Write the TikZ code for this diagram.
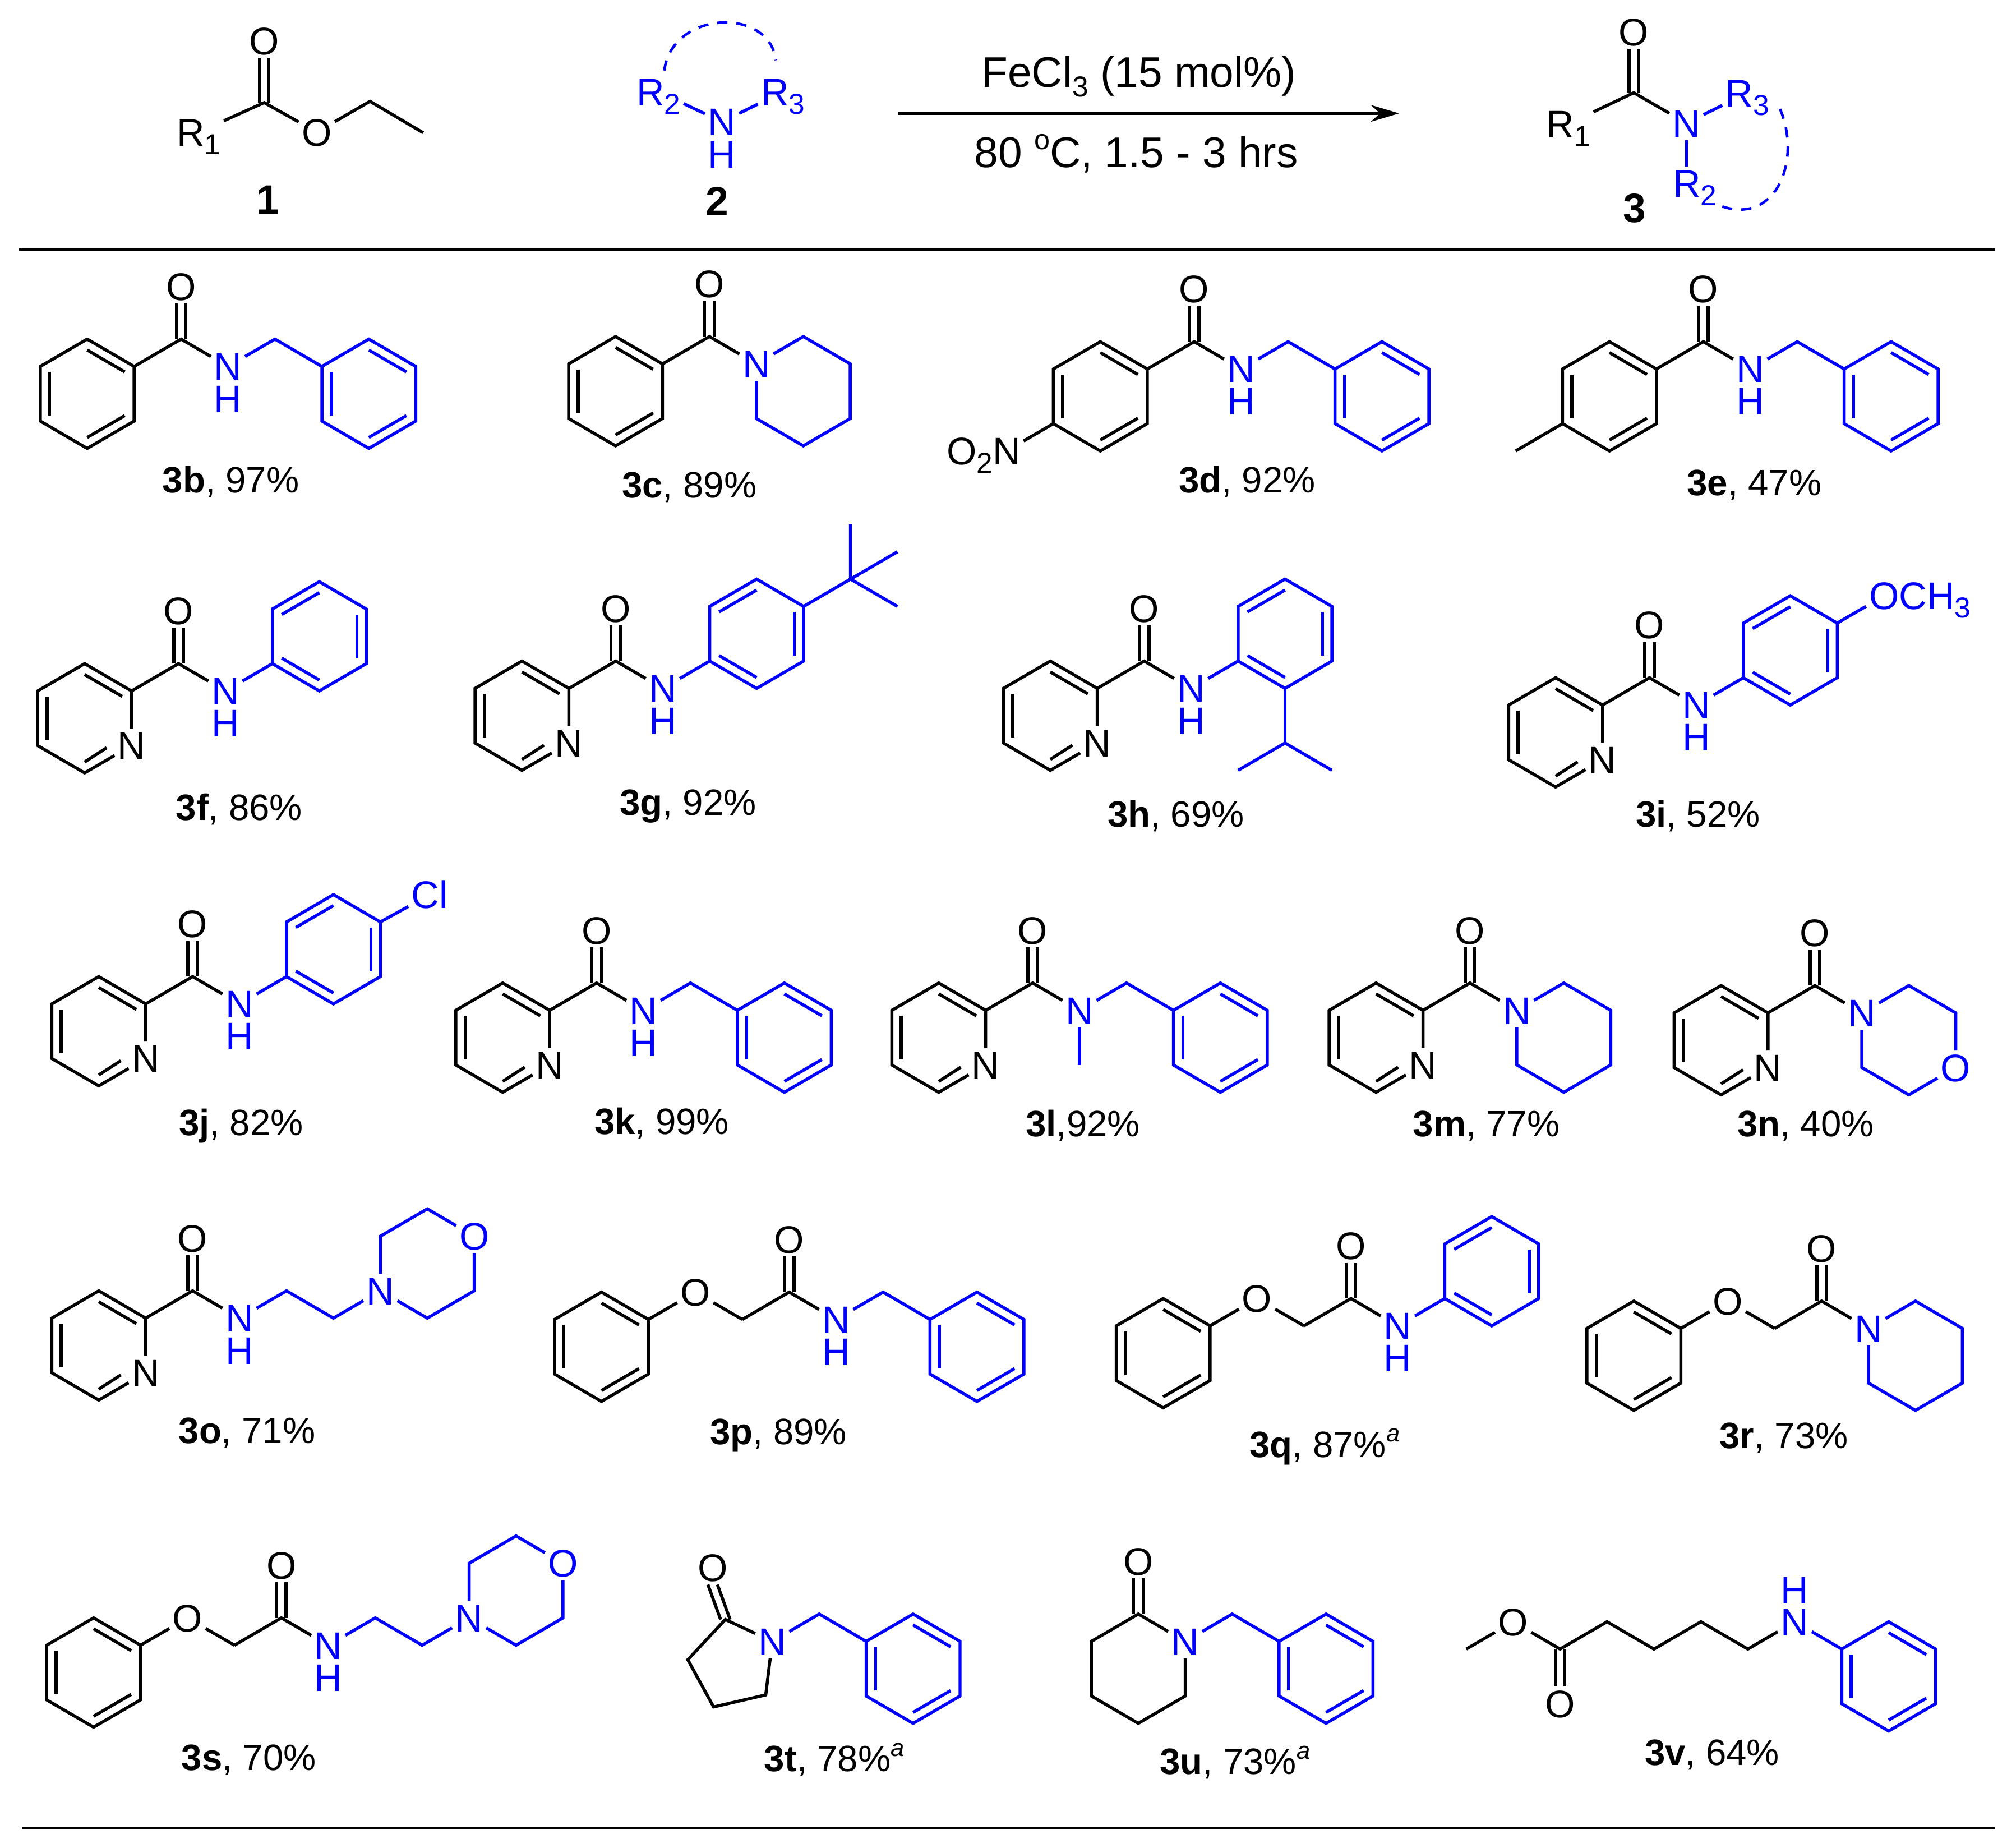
\documentclass[tikz,border=0pt]{standalone}
\usepackage{fontspec}
\setmainfont{Liberation Sans}
\usetikzlibrary{arrows.meta}
\usetikzlibrary{positioning}

\newcommand\subn[1]{\raisebox{-.22em}{\fontsize{22.5}{22.5}\selectfont #1}}
\newcommand\supa{\raisebox{.42em}{\fontsize{19}{19}\selectfont\itshape a}}

\tikzset{
  bb/.style={blue},
  atom/.style={inner sep=2.5pt,outer sep=0pt,text height=21.5pt,text depth=0pt,font=\fontsize{30}{36}\selectfont},
  batom/.style={atom,text=blue},
  lbl/.style={inner sep=0pt,font=\fontsize{28.6}{34}\selectfont},
  big/.style={inner sep=0pt,font=\fontsize{33.5}{40}\selectfont},
  num/.style={inner sep=0pt,font=\fontsize{32}{38}\selectfont\bfseries},
  dash arc/.style={blue,line width=2pt,dash pattern=on 8pt off 7pt},
  at px/.style 2 args={shift={(#1pt,-#2pt)}},
  page/.style={x=1pt,y=-1pt}
}

% ring with its inner bonds, #4 = 1 or -1 flips them
\newcommand\hexring[4][]{%
  \draw [#1] (#2,#3-2) -- (#2+1,#3-1) -- (#2+1,#3+1) -- (#2,#3+2)
  -- (#2-1,#3+1) -- (#2-1,#3-1) -- cycle;
  \draw [#1] (#2,#3-1.6) -- (#2+0.8*#4,#3-0.8);
  \draw [#1] (#2+0.8*#4,#3+0.8) -- (#2,#3+1.6);
  \draw [#1] (#2-0.8*#4,#3+0.8) -- (#2-0.8*#4,#3-0.8);
}
\newcommand\pyrid{%
  \node [atom] (pn) at (1,1) {N};
  \draw (pn) -- (1,-1) -- (0,-2) -- (-1,-1) -- (-1,1) -- (0,2) -- (pn);
  \draw (0,-1.6) -- (0.8,-0.8);
  \draw (-0.8,0.8) -- (-0.8,-0.8);
  \draw (0,1.6) -- (0.47,1.08);
}
\newcommand\dbond[2]{%
  \draw ([xshift=-3.7pt]#1) -- ([xshift=-3.7pt]#2);
  \draw ([xshift=3.7pt]#1) -- ([xshift=3.7pt]#2);
}
\newcommand\cono[2]{%
  \coordinate (c) at (#1,#2);
  \node [atom] (o) at (#1,#2-1.93) {O};
  \node [batom] (n) at (#1+1,#2+1) {N};
  \draw (#1-1,#2+1) -- (c) -- (n);
  \dbond{c}{o.south}
}
\newcommand\nh{\node [batom, below=-1.5pt of n] (h) {H};}
\newcommand\bnzyl[2]{%
  \draw [bb] (n) -- (#1,#2) -- (#1+1,#2+1);
  \hexring[bb]{#1+2}{#2+2}{1}
}
\newcommand\pip[2]{%
  \draw [bb] (n) -- (#1+1,#2-1) -- (#1+2,#2) -- (#1+2,#2+2)
  -- (#1+1,#2+3) -- (#1,#2+2) -- (n);
}
\newcommand\morphup[2]{%
  \node [batom] (nm) at (#1,#2) {N};
  \node [batom] (om) at (#1+2,#2-2) {O};
  \draw [bb] (nm) -- (#1,#2-2) -- (#1+1,#2-3) -- (om) -- (#1+2,#2) -- (#1+1,#2+1) -- (nm);
}
\newcommand\phoxy{%
  \hexring{0}{0}{1}
  \node [atom] (ox) at (2,-2) {O};
  \draw (1,-1) -- (ox) -- (3,-1);
}
\newcommand\labl[4]{\node [lbl] (l#3) at (#1,#2) {\textbf{#3}#4};}

\begin{document}
\begin{tikzpicture}[x=36.6pt, y=-21.3pt, line width=2.4pt]

  \useasboundingbox (0pt,0pt) rectangle (1565pt,-1440.8pt);

  \begin{scope}[page]
    % scheme on top
    \coordinate (c1) at (206,80);
    \coordinate (ch2) at (288.5,79);
    \coordinate (ch3) at (330,103.5);
    \node [atom] (o1) at (206,32) {O};
    \node [atom] (o2) at (247,103) {O};
    \node [atom] (r1) at (155,103) {R\subn{1}};
    \draw (r1) -- (c1) -- (o2) -- (ch2) -- (ch3);
    \dbond{c1}{o1.south}
    \node [num] (n1) at (209,156) {1};

    \node [batom] (n2) at (563,95) {N};
    \node [batom, below=-1.5pt of n2] (h2) {H};
    \node [batom] (r2) at (513.5,71.5) {R\subn{2}};
    \node [batom] (r3) at (610.5,71.5) {R\subn{3}};
    \draw [bb] (r2) -- (n2) -- (r3);
    \draw [dash arc] (518,55) .. controls (524,8) and (600,5) .. (605,47);
    \node [num] (n22) at (559,157) {2};

    \coordinate (a0) at (700,88.4);
    \coordinate (a1) at (1091,88.4);
    \draw [-{Stealth[length=22pt,width=13pt]}, line width=2.2pt] (a0) -- (a1);
    \node [big, anchor=base] (cat) at (888,68) {FeCl\subn{3} (15 mol\%)};
    \node [big, anchor=base] (cond) at (886,130.5)
    {80 \raisebox{.42em}{\fontsize{22}{22}\selectfont o}C, 1.5 - 3 hrs};

    \coordinate (c3) at (1274,72.3);
    \node [atom] (o3) at (1274,25) {O};
    \node [batom] (n3) at (1315,96) {N};
    \node [atom] (r31) at (1223,96.5) {R\subn{1}};
    \node [batom] (r33) at (1362.5,72.5) {R\subn{3}};
    \node [batom] (r32) at (1321.5,143) {R\subn{2}};
    \draw (r31) -- (c3) -- (n3);
    \dbond{c3}{o3.south}
    \draw [bb] (n3) -- (r33);
    \draw [bb] (n3) -- (n3 |- r32.north);
    \draw [dash arc] (1388,85) .. controls (1405,125) and (1385,175) .. (1343,161);
    \node [num] (n33) at (1274.5,162.5) {3};

    \coordinate (t0) at (15,194.8);
    \coordinate (t1) at (1556,194.8);
    \coordinate (b0) at (17,1425.2);
    \coordinate (b1) at (1556,1425.2);
    \draw (t0) -- (t1);
    \draw (b0) -- (b1);

    % labels
    \labl{180}{375.5}{3b}{, 97\%}
    \labl{537.5}{380}{3c}{, 89\%}
    \labl{972.5}{375.5}{3d}{, 92\%}
    \labl{1368}{378}{3e}{, 47\%}
    \labl{186.5}{631}{3f}{, 86\%}
    \labl{536.5}{628.5}{3g}{, 92\%}
    \labl{917}{636}{3h}{, 69\%}
    \labl{1324}{636}{3i}{, 52\%}
    \labl{188}{878}{3j}{, 82\%}
    \labl{516}{876}{3k}{, 99\%}
    \labl{844.4}{877.5}{3l}{,92\%}
    \labl{1159}{878}{3m}{, 77\%}
    \labl{1408}{878}{3n}{, 40\%}
    \labl{192.6}{1117}{3o}{, 71\%}
    \labl{607}{1119}{3p}{, 89\%}
    \labl{1033}{1128}{3q}{, 87\%\supa}
    \labl{1391}{1121}{3r}{, 73\%}
    \labl{194}{1372}{3s}{, 70\%}
    \labl{650.5}{1372}{3t}{, 78\%\supa}
    \labl{963}{1374}{3u}{, 73\%\supa}
    \labl{1335}{1368}{3v}{, 64\%}
  \end{scope}

  % 3b
  \begin{scope}[at px={68}{307}]
    \hexring{0}{0}{1}
    \cono{2}{-2}
    \nh
    \bnzyl{4}{-2}
  \end{scope}

  % 3c
  \begin{scope}[at px={480}{305}]
    \hexring{0}{0}{1}
    \cono{2}{-2}
    \pip{3}{-1}
  \end{scope}

  % 3d
  \begin{scope}[at px={858}{309}]
    \hexring{0}{0}{1}
    \cono{2}{-2}
    \nh
    \bnzyl{4}{-2}
    \node [atom] (no) at (-2,2) {N};
    \node [atom, left=-5pt of no] (ono) {O\subn{2}};
    \draw (-1,1) -- (no);
  \end{scope}

  % 3e
  \begin{scope}[at px={1255}{309}]
    \hexring{0}{0}{1}
    \cono{2}{-2}
    \nh
    \bnzyl{4}{-2}
    \draw (-1,1) -- (-2,2);
  \end{scope}

  % 3f
  \begin{scope}[at px={66}{560}]
    \pyrid
    \cono{2}{-2}
    \nh
    \draw [bb] (n) -- (4,-2);
    \hexring[bb]{5}{-3}{-1}
  \end{scope}

  % 3g
  \begin{scope}[at px={407}{558}]
    \pyrid
    \cono{2}{-2}
    \nh
    \draw [bb] (n) -- (4,-2);
    \hexring[bb]{5}{-3}{-1}
    \draw [bb] (6,-4) -- (7,-5) -- (7,-7);
    \draw [bb] (8,-6) -- (7,-5) -- (8,-4);
  \end{scope}

  % 3h
  \begin{scope}[at px={819}{558}]
    \pyrid
    \cono{2}{-2}
    \nh
    \draw [bb] (n) -- (4,-2);
    \hexring[bb]{5}{-3}{-1}
    \draw [bb] (5,-1) -- (5,1);
    \draw [bb] (4,2) -- (5,1) -- (6,2);
  \end{scope}

  % 3i
  \begin{scope}[at px={1213}{571}]
    \pyrid
    \cono{2}{-2}
    \nh
    \draw [bb] (n) -- (4,-2);
    \hexring[bb]{5}{-3}{-1}
    \node [batom] (ome) at (7,-5) {O};
    \node [batom, right=-5pt of ome] (me) {CH\subn{3}};
    \draw [bb] (6,-4) -- (ome);
  \end{scope}

  % 3j
  \begin{scope}[at px={77}{804}]
    \pyrid
    \cono{2}{-2}
    \nh
    \draw [bb] (n) -- (4,-2);
    \hexring[bb]{5}{-3}{-1}
    \node [batom] (cl) at (7.05,-5) {Cl};
    \draw [bb] (6,-4) -- (cl);
  \end{scope}

  % 3k
  \begin{scope}[at px={392}{809}]
    \pyrid
    \cono{2}{-2}
    \nh
    \bnzyl{4}{-2}
  \end{scope}

  % 3l
  \begin{scope}[at px={732}{809}]
    \pyrid
    \cono{2}{-2}
    \draw [bb] (n) -- (3,1);
    \bnzyl{4}{-2}
  \end{scope}

  % 3m
  \begin{scope}[at px={1073}{809}]
    \pyrid
    \cono{2}{-2}
    \pip{3}{-1}
  \end{scope}

  % 3n
  \begin{scope}[at px={1342}{811}]
    \pyrid
    \cono{2}{-2}
    \node [batom] (om) at (5,1) {O};
    \draw [bb] (n) -- (4,-2) -- (5,-1) -- (om) -- (4,2) -- (3,1) -- (n);
  \end{scope}

  % 3o
  \begin{scope}[at px={77}{1049}]
    \pyrid
    \cono{2}{-2}
    \nh
    \morphup{6}{-2}
    \draw [bb] (n) -- (4,-2) -- (5,-1) -- (nm);
  \end{scope}

  % 3p
  \begin{scope}[at px={469}{1050}]
    \phoxy
    \cono{4}{-2}
    \nh
    \bnzyl{6}{-2}
  \end{scope}

  % 3q
  \begin{scope}[at px={907}{1055}]
    \phoxy
    \cono{4}{-2}
    \nh
    \draw [bb] (n) -- (6,-2);
    \hexring[bb]{7}{-3}{-1}
  \end{scope}

  % 3r
  \begin{scope}[at px={1274}{1057}]
    \phoxy
    \cono{4}{-2}
    \pip{5}{-1}
  \end{scope}

  % 3s
  \begin{scope}[at px={73}{1304}]
    \phoxy
    \cono{4}{-2}
    \nh
    \morphup{8}{-2}
    \draw [bb] (n) -- (6,-2) -- (7,-1) -- (nm);
  \end{scope}

  % 3t
  \begin{scope}[at px={712}{1301}]
    \hexring[bb]{0}{0}{1}
    \coordinate (c) at (-4,-1.8);
    \node [atom] (o) at (-4.27,-3.7) {O};
    \node [batom] (n) at (-3,-1) {N};
    \draw (n) -- (c) -- (-4.8,-0.33) -- (-4.25,1.4) -- (-3.14,0.96) -- (n);
    \dbond{c}{o.south}
    \draw [bb] (n) -- (-2,-2) -- (-1,-1);
  \end{scope}

  % 3u
  \begin{scope}[at px={1034}{1301}]
    \hexring[bb]{0}{0}{1}
    \coordinate (c) at (-4,-2);
    \node [atom] (o) at (-4,-3.93) {O};
    \node [batom] (n) at (-3,-1) {N};
    \draw (n) -- (c) -- (-5,-1) -- (-5,1) -- (-4,2) -- (-3,1) -- (n);
    \dbond{c}{o.south}
    \draw [bb] (n) -- (-2,-2) -- (-1,-1);
  \end{scope}

  % 3v
  \begin{scope}[at px={1472.7}{1307}]
    \hexring[bb]{0}{0}{1}
    \node [batom] (n) at (-2,-2) {N};
    \node [batom, above=-1.5pt of n] (h) {H};
    \draw [bb] (n) -- (-1,-1);
    \coordinate (c) at (-7,-1);
    \node [atom] (o) at (-7,1) {O};
    \node [atom] (oe) at (-8,-2) {O};
    \draw (n) -- (-3,-1) -- (-4,-2) -- (-5,-1) -- (-6,-2) -- (c) -- (oe) -- (-9,-1);
    \dbond{c}{o.north}
  \end{scope}

\end{tikzpicture}
\end{document}
